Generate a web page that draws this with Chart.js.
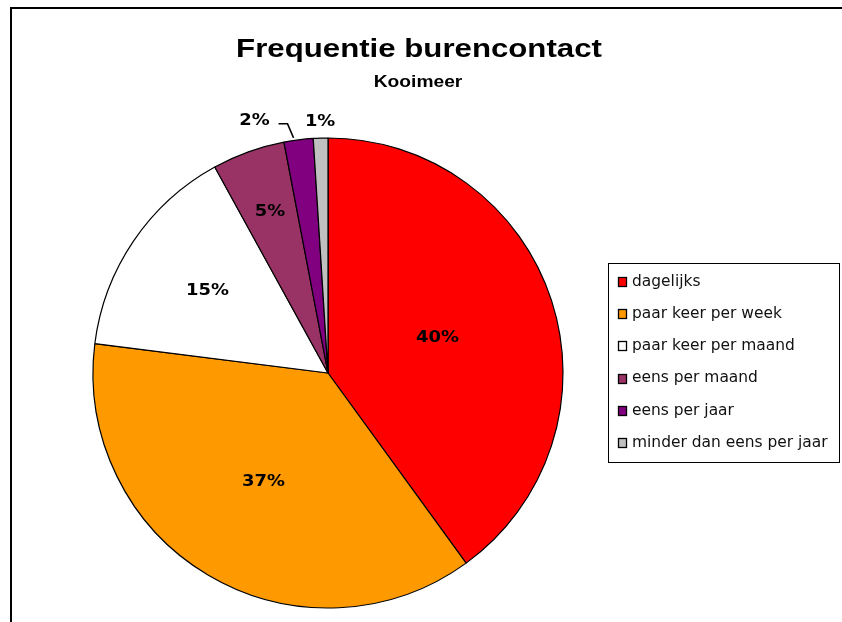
<!DOCTYPE html>
<html>
<head>
<meta charset="utf-8">
<style>
  html, body { margin: 0; padding: 0; background: #fff; }
  canvas { display: block; }
</style>
<script src="https://cdn.jsdelivr.net/npm/chart.js@4/dist/chart.umd.min.js"></script>
</head>
<body>
<canvas id="pieChart" width="842" height="622"></canvas>
<script>
let categories = [
    "dagelijks",
    "paar keer per week",
    "paar keer per maand",
    "eens per maand",
    "eens per jaar",
    "minder dan eens per jaar"
]

let shares = [40, 37, 15, 5, 2, 1]

let sliceColors = [
    "#ff0000",
    "#ff9900",
    "#ffffff",
    "#993366",
    "#800080",
    "#c0c0c0"
]

let chartTitle = "Frequentie burencontact"
let chartSubtitle = "Kooimeer"

// label placement along each slice's middle angle (fraction of radius)
let labelSpots = [
    { f: 0.49 },
    { f: 0.54 },
    { f: 0.62 },
    { f: 0.73 },
    { f: 1.0, leader: true },
    { f: 1.07 }
]

function stretchText(ctx, text, x, y, sx) {
    ctx.save();
    ctx.translate(x, y);
    ctx.scale(sx, 1);
    ctx.fillText(text, 0, 0);
    ctx.restore();
}

const decorations = {
    id: "decorations",
    beforeDraw(chart) {
        const ctx = chart.ctx;
        ctx.save();
        ctx.fillStyle = "#fff";
        ctx.fillRect(0, 0, chart.width, chart.height);
        // chart frame (only top and left edges are visible)
        ctx.strokeStyle = "#000";
        ctx.lineWidth = 2;
        ctx.beginPath();
        ctx.moveTo(11, chart.height);
        ctx.lineTo(11, 8);
        ctx.lineTo(chart.width, 8);
        ctx.stroke();

        ctx.fillStyle = "#000";
        ctx.textAlign = "center";
        ctx.textBaseline = "alphabetic";
        ctx.font = "bold 26px 'Liberation Sans', Arial, sans-serif";
        stretchText(ctx, chartTitle, 419, 57, 1.2);
        ctx.font = "bold 16px 'Liberation Sans', Arial, sans-serif";
        stretchText(ctx, chartSubtitle, 418, 87, 1.2);
        ctx.restore();
    },
    afterDraw(chart) {
        const ctx = chart.ctx;
        const meta = chart.getDatasetMeta(0);
        ctx.save();

        // slice labels
        ctx.fillStyle = "#000";
        ctx.strokeStyle = "#000";
        ctx.font = "bold 16px 'DejaVu Sans', Verdana, sans-serif";
        ctx.textAlign = "center";
        ctx.textBaseline = "middle";
        meta.data.forEach((arc, i) => {
            const p = arc.getProps(["x", "y", "startAngle", "endAngle", "outerRadius"], true);
            const mid = (p.startAngle + p.endAngle) / 2;
            const spot = labelSpots[i];
            const r = p.outerRadius * spot.f;
            let lx = p.x + Math.cos(mid) * r;
            let ly = p.y + Math.sin(mid) * r;
            const txt = shares[i] + "%";
            if (spot.leader) {
                const ex = lx - 5, ey = ly - 2;
                const bx = ex - 6, by = ey - 14;
                ctx.lineWidth = 1.5;
                ctx.beginPath();
                ctx.moveTo(ex, ey);
                ctx.lineTo(bx, by);
                ctx.lineTo(bx - 9, by);
                ctx.stroke();
                lx = bx - 33;
                ly = by - 3;
            }
            stretchText(ctx, txt, lx, ly, 1.12);
        });

        // legend box
        const box = { x: 608.5, y: 263.5, w: 231, h: 199 };
        ctx.fillStyle = "#fff";
        ctx.fillRect(box.x, box.y, box.w, box.h);
        ctx.lineWidth = 1;
        ctx.strokeRect(box.x, box.y, box.w, box.h);
        ctx.textAlign = "left";
        ctx.font = "15px 'DejaVu Sans', Verdana, sans-serif";
        categories.forEach((name, i) => {
            const cy = 282 + i * 32.2;
            ctx.fillStyle = sliceColors[i];
            ctx.fillRect(618.5, Math.round(cy) - 4.5, 8, 9);
            ctx.strokeStyle = "#000";
            ctx.lineWidth = 1.3;
            ctx.strokeRect(618.5, Math.round(cy) - 4.5, 8, 9);
            ctx.fillStyle = "#111";
            stretchText(ctx, name, 632, cy, 1.03);
        });
        ctx.restore();
    }
};

function pieChart() {
    const ctx = document.getElementById("pieChart");

    new Chart(ctx, {
        type: "pie",
        data: {
            labels: categories,
            datasets: [{
                data: shares,
                backgroundColor: sliceColors,
                borderColor: "#000",
                borderWidth: 1.2,
                radius: 235,
                hoverOffset: 0
            }]
        },
        options: {
            responsive: false,
            devicePixelRatio: 1,
            animation: false,
            events: [],
            layout: {
                padding: { left: 93, right: 279, top: 138, bottom: 14 }
            },
            plugins: {
                legend: { display: false },
                title: { display: false },
                tooltip: { enabled: false }
            }
        },
        plugins: [decorations]
    });
}

pieChart();
</script>
</body>
</html>
